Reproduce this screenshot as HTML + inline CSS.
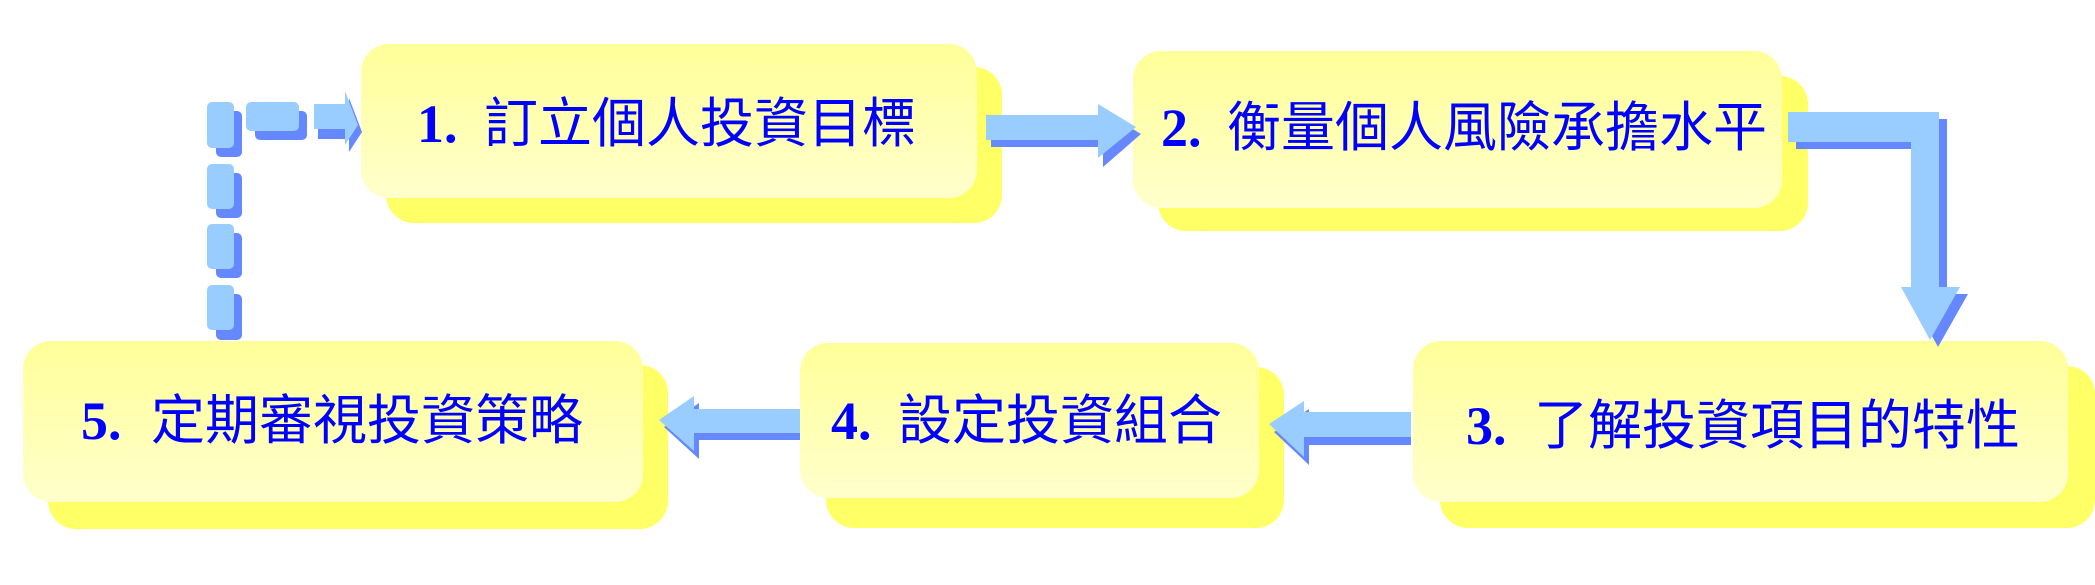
<!DOCTYPE html>
<html><head><meta charset="utf-8"><style>
html,body{margin:0;padding:0;background:#fff;}
svg{display:block;}
text{font-family:"Liberation Sans","Noto Sans CJK TC",sans-serif;fill:#0000ff;font-size:54px;}
.n{font-family:"Liberation Serif",serif;font-weight:bold;}
</style></head><body>
<svg width="2095" height="585" viewBox="0 0 2095 585" xmlns="http://www.w3.org/2000/svg">
<defs>
<linearGradient id="g" x1="0" y1="0" x2="0" y2="1">
<stop offset="0" stop-color="#ffff99"/><stop offset="1" stop-color="#ffffcc"/>
</linearGradient>
</defs>
<!-- boxes -->
<rect x="386" y="67" width="616" height="156" rx="28" fill="#ffff66"/>
<rect x="361" y="44" width="616" height="154" rx="28" fill="url(#g)"/>
<rect x="1158" y="76" width="650" height="155" rx="28" fill="#ffff66"/>
<rect x="1133" y="51" width="649" height="157" rx="28" fill="url(#g)"/>
<rect x="1440" y="366" width="655" height="162" rx="28" fill="#ffff66"/>
<rect x="1413" y="341" width="655" height="161" rx="28" fill="url(#g)"/>
<rect x="826" y="367" width="458" height="161" rx="28" fill="#ffff66"/>
<rect x="800" y="343" width="459" height="155" rx="28" fill="url(#g)"/>
<rect x="48" y="365" width="620" height="164" rx="28" fill="#ffff66"/>
<rect x="23" y="341" width="620" height="161" rx="28" fill="url(#g)"/>

<!-- arrow 1->2 -->
<polygon points="991,122 1103,122 1103,111 1141,134 1103,167 1103,147 991,147" fill="#6688ff"/>
<polygon points="986,115 1098,115 1098,104 1136,127 1098,158 1098,140 986,140" fill="#99ccff"/>
<!-- arrow 2->3 -->
<polygon points="1796,119 1947,119 1947,294 1968,294 1938,347 1909,294 1919,294 1919,149 1796,149" fill="#6688ff"/>
<polygon points="1788,112 1939,112 1939,287 1960,287 1930,340 1901,287 1911,287 1911,142 1788,142" fill="#99ccff"/>
<!-- arrow 3->4 -->
<polygon points="1411,420 1309,420 1309,409 1274,432 1309,465 1309,445 1411,445" fill="#6688ff"/>
<polygon points="1411,412 1304,412 1304,401 1269,424 1304,457 1304,437 1411,437" fill="#99ccff"/>
<!-- arrow 4->5 -->
<polygon points="800,416 699,416 699,403 664,427 699,459 699,440 800,440" fill="#6688ff"/>
<polygon points="800,409 694,409 694,396 659,420 694,451 694,433 800,433" fill="#99ccff"/>

<!-- dashed 5->1 -->
<g fill="#6688ff">
<rect x="216" y="111" width="26" height="46" rx="5"/>
<rect x="216" y="173" width="26" height="45" rx="5"/>
<rect x="216" y="233" width="26" height="45" rx="5"/>
<rect x="216" y="294" width="26" height="46" rx="5"/>
<rect x="255" y="111" width="52" height="29" rx="5"/>
<polygon points="318,111 349,111 349,98 362,132 349,152 349,139 318,139"/>
</g>
<g fill="#99ccff">
<rect x="207" y="102" width="27" height="46" rx="5"/>
<rect x="207" y="164" width="27" height="45" rx="5"/>
<rect x="207" y="224" width="27" height="45" rx="5"/>
<rect x="207" y="285" width="27" height="45" rx="5"/>
<rect x="246" y="102" width="53" height="29" rx="5"/>
<polygon points="314,104 345,104 345,91 358,125 345,145 345,129 314,129"/>
</g>

<!-- labels -->
<text x="417" y="142"><tspan class="n">1.</tspan><tspan x="484">訂立個人投資目標</tspan></text>
<text x="1161" y="146"><tspan class="n">2.</tspan><tspan x="1227">衡量個人風險承擔水平</tspan></text>
<text x="1466" y="444"><tspan class="n">3.</tspan><tspan x="1534">了解投資項目的特性</tspan></text>
<text x="831" y="439"><tspan class="n">4.</tspan><tspan x="898">設定投資組合</tspan></text>
<text x="81" y="439"><tspan class="n">5.</tspan><tspan x="151">定期審視投資策略</tspan></text>
</svg>
</body></html>
